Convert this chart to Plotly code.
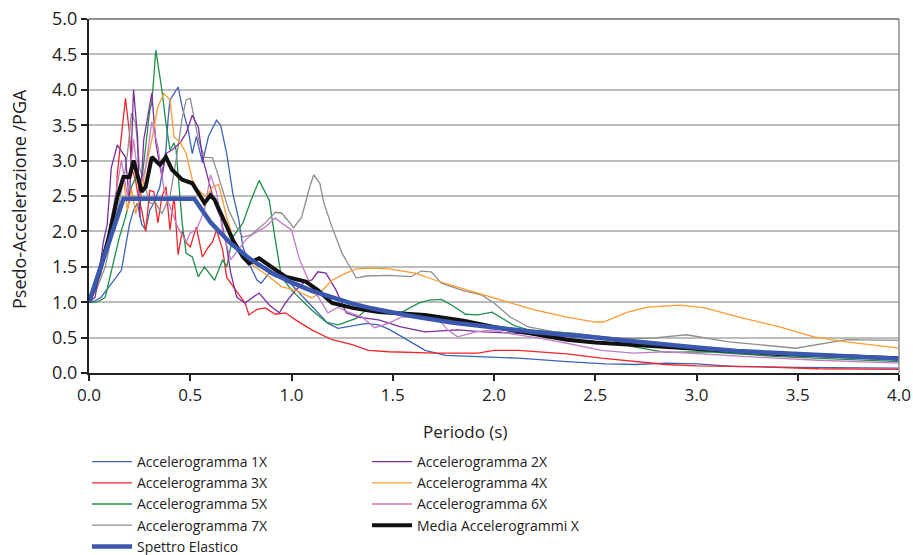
import plotly.graph_objects as go

# ---- data ----
T_1X = [0, 0.03, 0.06, 0.09, 0.11, 0.14, 0.16, 0.18, 0.2, 0.22, 0.24, 0.26, 0.28, 0.3, 0.32, 0.35, 0.36, 0.38, 0.39, 0.4, 0.41, 0.44, 0.46, 0.49, 0.51, 0.53, 0.56, 0.59, 0.63, 0.65, 0.68, 0.71, 0.74, 0.76, 0.79, 0.83, 0.85, 0.89, 0.92, 0.96, 1.0, 1.04, 1.08, 1.13, 1.18, 1.23, 1.3, 1.37, 1.43, 1.48, 1.54, 1.6, 1.66, 1.76, 1.92, 2.12, 2.36, 2.55, 2.7, 2.85, 3.0, 3.2, 3.5, 3.8, 4.0]
A_1X = [1.0, 1.02, 1.07, 1.18, 1.27, 1.38, 1.45, 1.78, 2.1, 2.3, 2.4, 2.1, 2.02, 2.3, 2.4, 2.63, 2.82, 3.15, 3.57, 3.86, 3.9, 4.04, 3.76, 3.43, 3.1, 3.34, 2.97, 3.34, 3.57, 3.5, 3.1, 2.54, 2.16, 1.78, 1.55, 1.31, 1.27, 1.41, 1.36, 1.33, 1.25, 1.13, 1.0, 0.85, 0.7, 0.63, 0.66, 0.7, 0.68, 0.62, 0.52, 0.42, 0.32, 0.25, 0.23, 0.21, 0.16, 0.13, 0.12, 0.14, 0.13, 0.09, 0.08, 0.07, 0.07]

T_2X = [0, 0.03, 0.05, 0.07, 0.09, 0.11, 0.14, 0.18, 0.2, 0.22, 0.24, 0.25, 0.27, 0.3, 0.31, 0.33, 0.36, 0.38, 0.41, 0.45, 0.48, 0.51, 0.54, 0.56, 0.59, 0.62, 0.65, 0.68, 0.7, 0.73, 0.77, 0.81, 0.84, 0.89, 0.94, 0.97, 1.02, 1.07, 1.1, 1.13, 1.17, 1.22, 1.27, 1.33, 1.43, 1.54, 1.66, 1.82, 1.95, 2.12, 2.36, 2.53, 2.69, 2.85, 2.95, 3.41, 4.0]
A_2X = [1.0, 1.07, 1.4, 1.84, 2.1, 2.9, 3.22, 3.05, 2.4, 4.0, 3.33, 2.2, 3.29, 3.76, 3.95, 3.25, 2.77, 3.1, 3.15, 3.25, 3.39, 3.64, 3.47, 3.05, 2.73, 2.4, 2.2, 1.78, 1.41, 1.07, 0.99, 1.07, 1.13, 0.96, 0.85, 0.99, 1.17, 1.3, 1.31, 1.43, 1.41, 1.17, 0.85, 0.79, 0.75, 0.65, 0.58, 0.61, 0.58, 0.56, 0.51, 0.51, 0.42, 0.37, 0.35, 0.28, 0.21]

T_3X = [0, 0.03, 0.06, 0.09, 0.11, 0.13, 0.14, 0.16, 0.18, 0.2, 0.21, 0.23, 0.24, 0.26, 0.28, 0.3, 0.32, 0.34, 0.36, 0.38, 0.4, 0.42, 0.44, 0.46, 0.48, 0.5, 0.53, 0.56, 0.59, 0.61, 0.63, 0.66, 0.68, 0.73, 0.77, 0.79, 0.83, 0.87, 0.92, 0.97, 1.02, 1.1, 1.2, 1.3, 1.38, 1.48, 1.6, 1.71, 1.92, 2.0, 2.12, 2.2, 2.36, 2.53, 2.69, 2.85, 3.0, 3.3, 3.6, 4.0]
A_3X = [1.0, 1.3, 1.6, 1.84, 2.0, 2.16, 2.82, 3.34, 3.88, 3.39, 2.9, 2.72, 2.54, 2.3, 2.0, 2.58, 2.56, 2.12, 2.49, 2.63, 2.02, 2.5, 1.67, 2.0, 1.84, 1.78, 2.06, 1.64, 1.78, 1.85, 2.02, 1.74, 1.35, 1.15, 0.99, 0.82, 0.9, 0.92, 0.83, 0.85, 0.75, 0.61, 0.47, 0.4, 0.32, 0.3, 0.29, 0.28, 0.28, 0.32, 0.32, 0.3, 0.27, 0.21, 0.16, 0.12, 0.1, 0.09, 0.06, 0.05]

T_4X = [0, 0.04, 0.08, 0.11, 0.14, 0.17, 0.19, 0.21, 0.23, 0.26, 0.28, 0.31, 0.34, 0.37, 0.4, 0.42, 0.45, 0.48, 0.51, 0.54, 0.58, 0.61, 0.64, 0.66, 0.68, 0.71, 0.76, 0.82, 0.89, 0.95, 1.02, 1.05, 1.1, 1.14, 1.2, 1.27, 1.32, 1.4, 1.48, 1.61, 1.71, 1.87, 2.03, 2.2, 2.36, 2.5, 2.54, 2.66, 2.76, 2.92, 3.04, 3.21, 3.41, 3.58, 3.74, 4.0]
A_4X = [1.0, 1.3, 1.75, 2.1, 2.45, 2.75, 2.3, 2.6, 2.25, 2.55, 2.9, 3.29, 3.76, 3.95, 3.86, 3.33, 3.26, 3.1, 2.73, 2.58, 2.49, 2.63, 2.66, 2.44, 2.2, 1.92, 1.64, 1.5, 1.36, 1.22, 1.17, 1.13, 1.06, 1.13, 1.31, 1.41, 1.47, 1.48, 1.47, 1.41, 1.31, 1.17, 1.03, 0.89, 0.79, 0.72, 0.72, 0.86, 0.93, 0.96, 0.92, 0.79, 0.65, 0.51, 0.44, 0.35]

T_5X = [0, 0.04, 0.08, 0.1, 0.13, 0.15, 0.18, 0.2, 0.21, 0.24, 0.26, 0.28, 0.3, 0.31, 0.33, 0.36, 0.38, 0.4, 0.42, 0.43, 0.45, 0.46, 0.48, 0.51, 0.54, 0.57, 0.62, 0.66, 0.68, 0.71, 0.76, 0.8, 0.84, 0.89, 0.92, 0.95, 1.0, 1.1, 1.17, 1.23, 1.32, 1.38, 1.45, 1.54, 1.63, 1.68, 1.74, 1.79, 1.86, 1.92, 1.99, 2.03, 2.1, 2.17, 2.31, 2.4, 2.53, 2.69, 2.85, 3.05, 3.41, 3.7, 4.0]
A_5X = [1.0, 1.0, 1.07, 1.31, 1.64, 1.92, 2.2, 2.44, 2.63, 2.82, 2.7, 3.2, 3.71, 3.81, 4.56, 4.0, 3.53, 3.15, 3.25, 3.15, 2.4, 2.12, 1.69, 1.64, 1.36, 1.5, 1.31, 1.6, 1.5, 1.92, 2.12, 2.44, 2.72, 2.44, 1.88, 1.36, 1.17, 0.89, 0.72, 0.68, 0.77, 0.92, 0.85, 0.85, 0.99, 1.03, 1.04, 0.96, 0.83, 0.82, 0.86, 0.79, 0.67, 0.61, 0.58, 0.56, 0.51, 0.37, 0.29, 0.3, 0.23, 0.2, 0.16]

T_6X = [0, 0.04, 0.08, 0.1, 0.13, 0.16, 0.19, 0.22, 0.25, 0.28, 0.31, 0.34, 0.37, 0.4, 0.44, 0.48, 0.5, 0.53, 0.57, 0.6, 0.63, 0.66, 0.7, 0.74, 0.78, 0.82, 0.87, 0.92, 0.95, 1.0, 1.04, 1.09, 1.14, 1.18, 1.23, 1.28, 1.35, 1.41, 1.48, 1.54, 1.61, 1.72, 1.77, 1.82, 1.91, 1.99, 2.07, 2.23, 2.36, 2.53, 2.69, 2.85, 3.25, 3.6, 4.0]
A_6X = [1.0, 1.3, 1.7, 2.0, 2.5, 3.0, 2.5, 3.3, 2.6, 2.9, 3.55, 3.2, 2.6, 2.35, 2.05, 1.85, 1.98, 2.02, 2.3, 2.8, 2.55, 2.0, 1.6, 1.75, 1.9, 1.98, 2.06, 2.19, 2.12, 2.02, 1.6, 1.27, 1.03, 0.85, 0.93, 0.86, 0.79, 0.64, 0.7, 0.79, 0.79, 0.79, 0.61, 0.51, 0.58, 0.61, 0.56, 0.49, 0.42, 0.32, 0.28, 0.3, 0.23, 0.18, 0.14]

T_7X = [0, 0.04, 0.08, 0.11, 0.14, 0.17, 0.19, 0.21, 0.23, 0.24, 0.25, 0.28, 0.3, 0.33, 0.36, 0.4, 0.43, 0.46, 0.48, 0.5, 0.52, 0.54, 0.57, 0.61, 0.64, 0.69, 0.73, 0.76, 0.8, 0.83, 0.87, 0.92, 0.95, 0.99, 1.01, 1.05, 1.09, 1.11, 1.14, 1.16, 1.2, 1.25, 1.29, 1.32, 1.37, 1.48, 1.59, 1.64, 1.69, 1.74, 1.84, 1.94, 2.0, 2.08, 2.17, 2.3, 2.45, 2.62, 2.77, 2.95, 3.16, 3.49, 3.74, 4.0]
A_7X = [1.0, 1.2, 1.5, 1.9, 2.3, 2.7, 3.1, 3.67, 3.53, 3.25, 2.9, 2.6, 2.4, 2.4, 2.25, 2.5, 3.0, 3.6, 3.86, 3.88, 3.57, 3.3, 3.05, 3.04, 2.77, 2.3, 2.06, 1.92, 1.95, 2.02, 2.12, 2.27, 2.26, 2.13, 2.05, 2.2, 2.63, 2.8, 2.68, 2.4, 2.06, 1.69, 1.5, 1.34, 1.37, 1.38, 1.36, 1.44, 1.43, 1.27, 1.17, 1.1, 0.99, 0.79, 0.65, 0.58, 0.54, 0.49, 0.49, 0.54, 0.44, 0.35, 0.47, 0.46]

T_MEDIA = [0, 0.05, 0.1, 0.14, 0.17, 0.2, 0.22, 0.24, 0.26, 0.28, 0.31, 0.35, 0.38, 0.41, 0.46, 0.51, 0.54, 0.57, 0.6, 0.62, 0.66, 0.71, 0.76, 0.79, 0.84, 0.9, 0.97, 1.07, 1.13, 1.2, 1.3, 1.43, 1.55, 1.66, 1.75, 1.85, 2.0, 2.2, 2.36, 2.5, 2.66, 2.85, 3.0, 3.2, 3.4, 3.6, 3.8, 4.0]
A_MEDIA = [1.0, 1.4, 1.95, 2.49, 2.77, 2.77, 3.0, 2.77, 2.56, 2.63, 3.05, 2.94, 3.05, 2.87, 2.73, 2.68, 2.55, 2.4, 2.51, 2.45, 2.2, 1.88, 1.64, 1.55, 1.62, 1.5, 1.36, 1.29, 1.17, 0.99, 0.92, 0.86, 0.84, 0.82, 0.78, 0.74, 0.65, 0.55, 0.47, 0.43, 0.4, 0.37, 0.34, 0.3, 0.27, 0.25, 0.23, 0.21]

T_SPETTRO = [0, 0.17, 0.52, 0.6, 0.7, 0.8, 0.9, 1.0, 1.1, 1.2, 1.3, 1.4, 1.5, 1.6, 1.8, 2.0, 2.2, 2.4, 2.6, 2.8, 3.0, 3.2, 3.4, 3.6, 3.8, 4.0]
A_SPETTRO = [1.0, 2.46, 2.46, 2.13, 1.83, 1.6, 1.42, 1.28, 1.16, 1.07, 0.98, 0.91, 0.85, 0.8, 0.71, 0.64, 0.58, 0.53, 0.47, 0.41, 0.36, 0.31, 0.28, 0.25, 0.22, 0.2]

X_TICKS = [0, 0.5, 1.0, 1.5, 2.0, 2.5, 3.0, 3.5, 4.0]
Y_TICKS = [0, 0.5, 1.0, 1.5, 2.0, 2.5, 3.0, 3.5, 4.0, 4.5, 5.0]

FONT = "Open Sans"

series = [
    ("Accelerogramma 1X", T_1X, A_1X, "#3E63B8", 1.3, "legend"),
    ("Accelerogramma 3X", T_3X, A_3X, "#F2262A", 1.3, "legend"),
    ("Accelerogramma 5X", T_5X, A_5X, "#1F9146", 1.3, "legend"),
    ("Accelerogramma 7X", T_7X, A_7X, "#8E8E8E", 1.3, "legend"),
    ("Accelerogramma 2X", T_2X, A_2X, "#7B2E9E", 1.3, "legend2"),
    ("Accelerogramma 4X", T_4X, A_4X, "#FF9A30", 1.3, "legend2"),
    ("Accelerogramma 6X", T_6X, A_6X, "#C47CC6", 1.3, "legend2"),
]

fig = go.Figure()
for name, tx, ay, col, w, lg in series:
    fig.add_trace(go.Scatter(x=tx, y=ay, mode="lines", name=name,
                             line=dict(color=col, width=w), legend=lg))
fig.add_trace(go.Scatter(x=T_MEDIA, y=A_MEDIA, mode="lines", name="Media Accelerogrammi X",
                         line=dict(color="#111111", width=4), legend="legend2"))
fig.add_trace(go.Scatter(x=T_SPETTRO, y=A_SPETTRO, mode="lines", name="Spettro Elastico",
                         line=dict(color="#3A58AD", width=4.5), legend="legend"))

W, H = 913, 555
L, R, T, B = 89, 14, 19, 182
LEG_FONT = 14
PW, PH = W - L - R, H - T - B

fig.update_layout(
    width=W, height=H,
    margin=dict(l=L, r=R, t=T, b=B, autoexpand=False),
    paper_bgcolor="white", plot_bgcolor="white",
    font=dict(family=FONT, color="#222222", size=16),
    xaxis=dict(range=[0, 4], tickvals=X_TICKS, ticktext=[f"{v:.1f}" for v in X_TICKS],
               showgrid=False, zeroline=False, showline=True, linecolor="#222222",
               linewidth=2, ticks="outside", ticklen=6, tickwidth=1.5, tickcolor="#222222",
               tickfont=dict(size=17, family=FONT), ticklabeloverflow="allow",
               layer="above traces"),
    yaxis=dict(range=[0, 5], tickvals=Y_TICKS, ticktext=[f"{v:.1f}" for v in Y_TICKS],
               showgrid=True, gridcolor="#BDBDBD", gridwidth=1.5, zeroline=False,
               showline=True, linecolor="#222222", linewidth=2, ticks="outside",
               ticklen=6, tickwidth=1.5, tickcolor="#222222",
               tickfont=dict(size=18, family=FONT)),
    legend=dict(xref="container", yref="container", x=87 / W, y=1 - 446 / H,
                xanchor="left", yanchor="top", bgcolor="rgba(0,0,0,0)",
                font=dict(size=LEG_FONT, family=FONT), itemwidth=40, tracegroupgap=0,
                traceorder="normal"),
    legend2=dict(xref="container", yref="container", x=367 / W, y=1 - 446 / H,
                 xanchor="left", yanchor="top", bgcolor="rgba(0,0,0,0)",
                 font=dict(size=LEG_FONT, family=FONT), itemwidth=40, tracegroupgap=0,
                 traceorder="normal"),
    annotations=[
        dict(text="Periodo (s)", xref="paper", yref="paper",
             x=(465 - L) / PW, y=-(431 - (T + PH)) / PH, xanchor="center", yanchor="middle",
             showarrow=False, font=dict(size=17, family=FONT)),
        dict(text="Psedo-Accelerazione /PGA", xref="paper", yref="paper",
             x=(19 - L) / PW, y=(T + PH - 199) / PH, xanchor="center", yanchor="middle",
             textangle=-90, showarrow=False, font=dict(size=18, family=FONT)),
    ],
    shapes=[dict(type="line", xref="paper", yref="paper", x0=1, x1=1, y0=0, y1=1,
                 line=dict(color="#8C8C8C", width=1.5)),
            dict(type="line", xref="paper", yref="paper", x0=0, x1=1, y0=1, y1=1,
                 line=dict(color="#6E6E6E", width=1.5))],
)

fig.write_html("out.html")
